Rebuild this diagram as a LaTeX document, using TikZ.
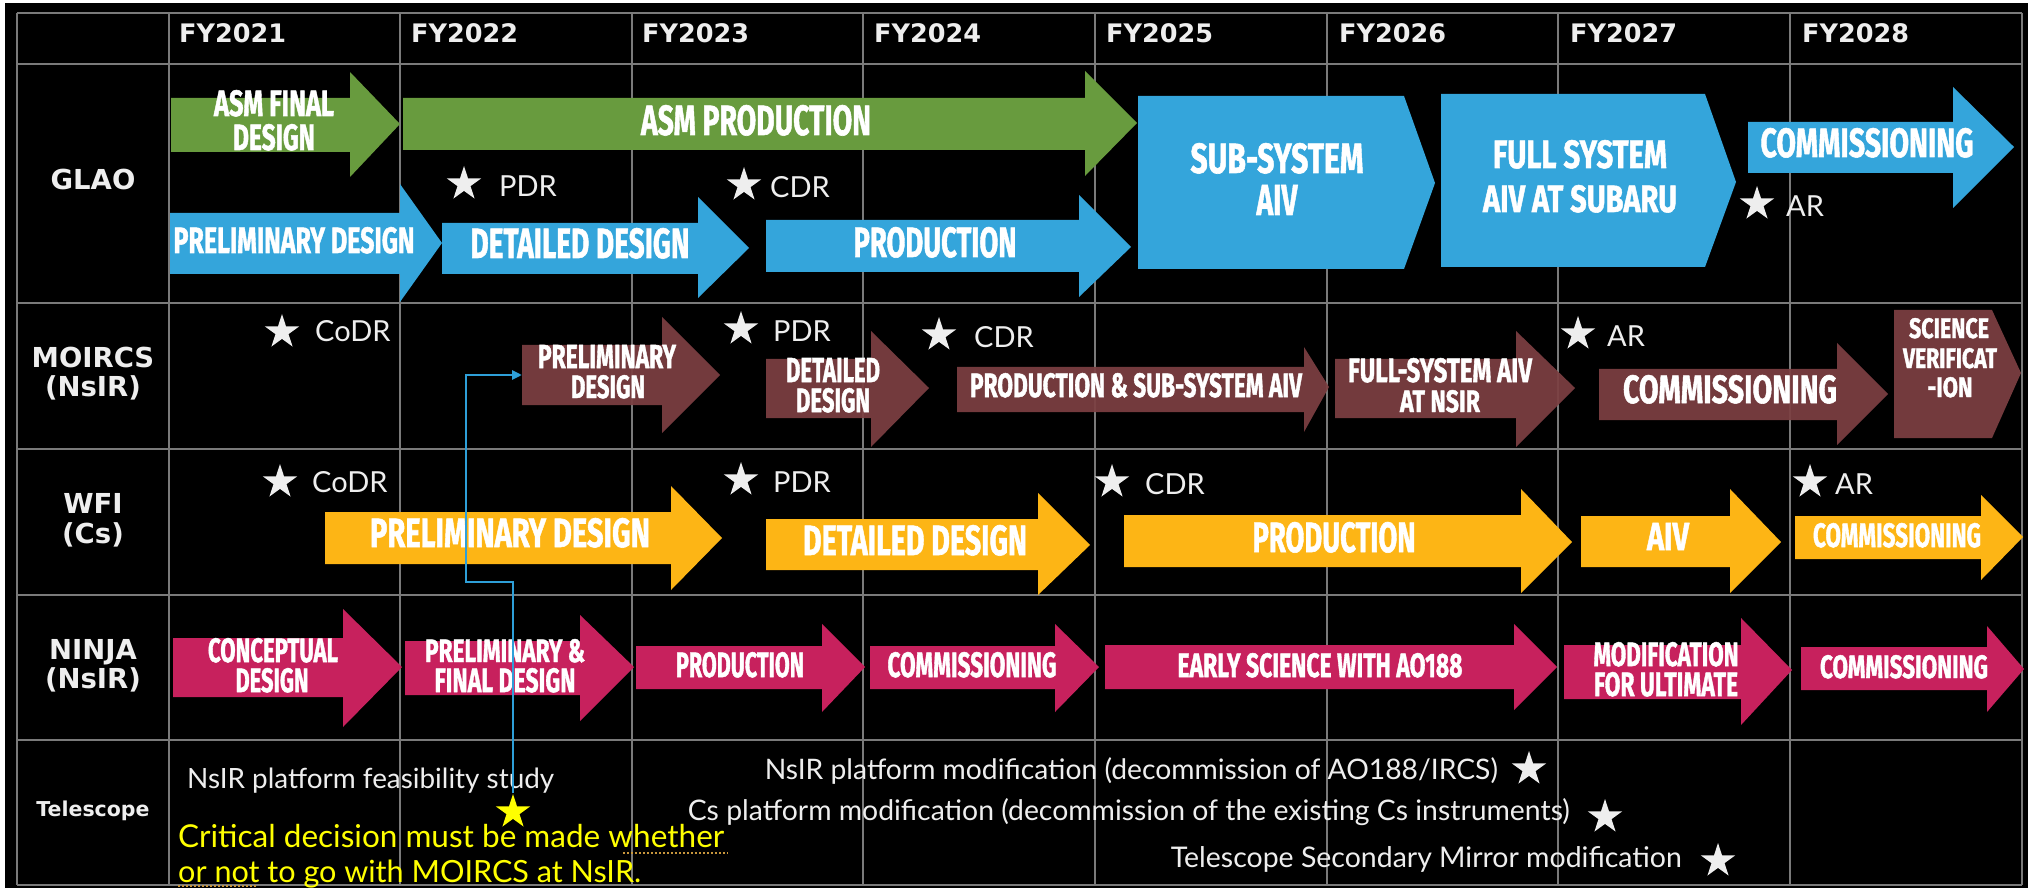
\documentclass[tikz,border=0pt]{standalone}
\usepackage{fontspec}
\usepackage{graphicx}
\usetikzlibrary{shapes.geometric,arrows.meta}
\newfontfamily\condfont[BoldFeatures={FakeBold=1.5}]{Fira Sans}
\newfontfamily\labfont{DejaVu Sans}
\newfontfamily\txtfont{Lato}
\definecolor{cgreen}{HTML}{689B3E}
\definecolor{cblue}{HTML}{34A5DB}
\definecolor{cbrown}{HTML}{7C3F42}
\definecolor{corange}{HTML}{FDB515}
\definecolor{cpink}{HTML}{C7215D}
\definecolor{cgrid}{HTML}{7A7A7A}
\definecolor{cwhite}{HTML}{EEEEEE}
\definecolor{cconn}{HTML}{2E9FD8}
\definecolor{cyel}{HTML}{FFFF00}
\definecolor{cdots}{HTML}{C8963C}
\newcommand{\rb}[3]{\resizebox{#1pt}{#2pt}{\condfont\bfseries #3}}
% colour, x1, top, bottom, xhead, headtop, headbottom, xtip, ytip
\newcommand{\arr}[9]{\fill[#1] (#2,#3) -- (#5,#3) -- (#5,#6) -- (#8,#9) -- (#5,#7) -- (#5,#4) -- (#2,#4) -- cycle;}
% colour, x1, top, bottom, xright, tip
\newcommand{\pent}[6]{\fill[#1] (#2,#3) -- (#5,#3) -- (#6) -- (#5,#4) -- (#2,#4) -- cycle;}
\tikzset{
  grid/.style={draw=cgrid, line width=2pt},
  atext/.style={inner sep=0pt, text=white, anchor=base},
  hdr/.style={inner sep=0pt, text=cwhite, anchor=base west, font=\labfont\bfseries\fontsize{25.5}{28}\selectfont},
  rlab/.style={inner sep=0pt, text=cwhite, anchor=base, font=\labfont\bfseries\fontsize{27.5}{30}\selectfont},
  tlab/.style={inner sep=0pt, text=cwhite, anchor=base, font=\labfont\bfseries\fontsize{20.5}{24}\selectfont},
  slab/.style={inner sep=0pt, text=cwhite, anchor=west, font=\txtfont\fontsize{29}{32}\selectfont},
  ttxt/.style={inner sep=0pt, text=cwhite, font=\txtfont\fontsize{26}{30}\selectfont},
  ytxt/.style={inner sep=0pt, text=cyel, anchor=base west, font=\txtfont\fontsize{29}{32}\selectfont},
  wstar/.style={star, star points=5, star point ratio=2.618, fill=cwhite, inner sep=0pt, minimum size=36pt},
  ystarst/.style={star, star points=5, star point ratio=2.618, fill=cyel, inner sep=0pt, minimum size=36pt},
  conn/.style={draw=cconn, line width=2.6pt, -{Triangle[length=10pt,width=9pt]}},
  squig/.style={draw=cdots, line width=2pt, dotted}
}
\begin{document}
\begin{tikzpicture}[x=1pt,y=-1pt]
\useasboundingbox (0,0) rectangle (2034,890);
\fill[white] (0,0) rectangle (2034,890);
\fill[black] (5,3) rectangle (2028,888);
% grid
\foreach \xx in {17,169,400,632,863,1095,1327,1558,1790,2022}{\draw[grid] (\xx,13) -- (\xx,885);}
\foreach \yy in {13,64,303,449,595,740,885}{\draw[grid] (17,\yy) -- (2022,\yy);}
% header
\node[hdr] (fy21) at (179,43) {FY2021};
\node[hdr] (fy22) at (411,43) {FY2022};
\node[hdr] (fy23) at (642,43) {FY2023};
\node[hdr] (fy24) at (874,43) {FY2024};
\node[hdr] (fy25) at (1106,43) {FY2025};
\node[hdr] (fy26) at (1339,43) {FY2026};
\node[hdr] (fy27) at (1570,43) {FY2027};
\node[hdr] (fy28) at (1802,43) {FY2028};
% row labels
\node[rlab] (lglao) at (93,190) {GLAO};
\node[rlab] (lmoa) at (93,367) {MOIRCS};
\node[rlab] (lmob) at (93,396) {(NsIR)};
\node[rlab] (lwfa) at (93,513) {WFI};
\node[rlab] (lwfb) at (93,543) {(Cs)};
\node[rlab] (lnja) at (93,659) {NINJA};
\node[rlab] (lnjb) at (93,688) {(NsIR)};
\node[tlab] (ltel) at (93,816) {Telescope};
% GLAO arrows
\arr{cgreen}{171}{98}{152}{350}{72}{177}{400}{124}
\arr{cgreen}{403}{98}{150}{1085}{71}{176}{1137}{123}
\arr{cblue}{170}{213}{274}{400}{184}{302}{442}{243}
\arr{cblue}{442}{223}{274}{698}{197}{298}{749}{248}
\arr{cblue}{766}{220}{272}{1079}{195}{297}{1131}{247}
\pent{cblue}{1138}{96}{269}{1404}{1435,183}
\pent{cblue}{1441}{94}{267}{1705}{1736,182}
\arr{cblue}{1748}{122}{173}{1953}{87}{208}{2014}{147}
% MOIRCS arrows
\begin{scope}[opacity=0.93]
\arr{cbrown}{522}{345}{405}{662}{317}{433}{720}{375}
\arr{cbrown}{766}{359}{418}{871}{331}{447}{929}{388}
\arr{cbrown}{957}{367}{412}{1304}{347}{432}{1329}{387}
\arr{cbrown}{1335}{359}{418}{1516}{331}{447}{1575}{388}
\arr{cbrown}{1599}{369}{420}{1837}{343}{445}{1888}{394}
\pent{cbrown}{1894}{310}{438}{1992}{2021,373}
\end{scope}
% WFI arrows
\arr{corange}{325}{512}{564}{671}{486}{590}{722}{538}
\arr{corange}{766}{519}{570}{1038}{493}{595}{1090}{545}
\arr{corange}{1124}{515}{567}{1521}{489}{593}{1572}{542}
\arr{corange}{1581}{516}{567}{1730}{489}{593}{1781}{542}
\arr{corange}{1795}{516}{559}{1981}{495}{580}{2023}{537}
% NINJA arrows
\arr{cpink}{173}{638}{697}{343}{609}{727}{402}{667}
\arr{cpink}{405}{641}{695}{580}{615}{721}{634}{667}
\arr{cpink}{636}{646}{689}{822}{624}{712}{865}{667}
\arr{cpink}{870}{646}{689}{1055}{624}{712}{1099}{667}
\arr{cpink}{1105}{645}{689}{1514}{624}{710}{1557}{667}
\arr{cpink}{1564}{645}{699}{1741}{618}{725}{1792}{670}
\arr{cpink}{1801}{647}{690}{1987}{626}{712}{2024}{669}
% GLAO texts
\node[atext] (g1a) at (274,116) {\rb{120}{26}{ASM FINAL}};
\node[atext] (g1b) at (274,150) {\rb{82}{26}{DESIGN}};
\node[atext] (g2) at (756,135) {\rb{230}{30}{ASM PRODUCTION}};
\node[atext] (b1) at (294,253) {\rb{241}{26}{PRELIMINARY DESIGN}};
\node[atext] (b2) at (580,258) {\rb{219}{30}{DETAILED DESIGN}};
\node[atext] (b3) at (935,257) {\rb{163}{30}{PRODUCTION}};
\node[atext] (p1a) at (1277,173) {\rb{173}{30}{SUB-SYSTEM}};
\node[atext] (p1b) at (1277,215) {\rb{41}{30}{AIV}};
\node[atext] (p2a) at (1580,168) {\rb{174}{28}{FULL SYSTEM}};
\node[atext] (p2b) at (1580,212) {\rb{194}{27}{AIV AT SUBARU}};
\node[atext] (b4) at (1867,157) {\rb{213}{29}{COMMISSIONING}};
% MOIRCS texts
\node[atext] (m1a) at (607,368) {\rb{138}{23}{PRELIMINARY}};
\node[atext] (m1b) at (608,398) {\rb{74}{23}{DESIGN}};
\node[atext] (m2a) at (833,382) {\rb{94}{24}{DETAILED}};
\node[atext] (m2b) at (833,412) {\rb{74}{24}{DESIGN}};
\node[atext] (m3) at (1136,397) {\rb{332}{24}{PRODUCTION \& SUB-SYSTEM AIV}};
\node[atext] (m4a) at (1440,382) {\rb{184}{24}{FULL-SYSTEM AIV}};
\node[atext] (m4b) at (1440,412) {\rb{80}{22}{AT NSIR}};
\node[atext] (m5) at (1730,403) {\rb{214}{28}{COMMISSIONING}};
\node[atext] (m6a) at (1949,338) {\rb{80}{20}{SCIENCE}};
\node[atext] (m6b) at (1950,368) {\rb{94}{20}{VERIFICAT}};
\node[atext] (m6c) at (1950,397) {\rb{45}{20}{-ION}};
% WFI texts
\node[atext] (w1) at (510,547) {\rb{280}{29}{PRELIMINARY DESIGN}};
\node[atext] (w2) at (915,555) {\rb{224}{30}{DETAILED DESIGN}};
\node[atext] (w3) at (1334,552) {\rb{163}{30}{PRODUCTION}};
\node[atext] (w4) at (1668,550) {\rb{42}{27}{AIV}};
\node[atext] (w5) at (1897,547) {\rb{168}{24}{COMMISSIONING}};
% NINJA texts
\node[atext] (n1a) at (273,662) {\rb{130}{24}{CONCEPTUAL}};
\node[atext] (n1b) at (272,692) {\rb{73}{24}{DESIGN}};
\node[atext] (n2a) at (505,662) {\rb{160}{23}{PRELIMINARY \&}};
\node[atext] (n2b) at (505,692) {\rb{141}{24}{FINAL DESIGN}};
\node[atext] (n3) at (740,677) {\rb{128}{25}{PRODUCTION}};
\node[atext] (n4) at (972,677) {\rb{169}{25}{COMMISSIONING}};
\node[atext] (n5) at (1320,677) {\rb{285}{24}{EARLY SCIENCE WITH AO188}};
\node[atext] (n6a) at (1666,666) {\rb{145}{24}{MODIFICATION}};
\node[atext] (n6b) at (1666,696) {\rb{144}{24}{FOR ULTIMATE}};
\node[atext] (n7) at (1904,678) {\rb{168}{23}{COMMISSIONING}};
% milestones
\node[wstar] (sg1) at (464,184) {};
\node[slab] (tg1) at (499,186) {PDR};
\node[wstar] (sg2) at (744,185) {};
\node[slab] (tg2) at (770,187) {CDR};
\node[wstar] (sg3) at (1757,204) {};
\node[slab] (tg3) at (1786,206) {AR};
\node[wstar] (sm1) at (282,332) {};
\node[slab] (tm1) at (315,331) {CoDR};
\node[wstar] (sm2) at (741,329) {};
\node[slab] (tm2) at (773,331) {PDR};
\node[wstar] (sm3) at (939,335) {};
\node[slab] (tm3) at (974,337) {CDR};
\node[wstar] (sm4) at (1578,334) {};
\node[slab] (tm4) at (1607,336) {AR};
\node[wstar] (sw1) at (280,482) {};
\node[slab] (tw1) at (312,482) {CoDR};
\node[wstar] (sw2) at (741,480) {};
\node[slab] (tw2) at (773,482) {PDR};
\node[wstar] (sw3) at (1112,482) {};
\node[slab] (tw3) at (1145,484) {CDR};
\node[wstar] (sw4) at (1810,482) {};
\node[slab] (tw4) at (1835,484) {AR};
% telescope row
\node[ttxt, anchor=base west] (feas) at (187,788) {\resizebox{367pt}{!}{NsIR platform feasibility study}};
\node[ttxt, anchor=base east] (tmod1) at (1498,779) {\resizebox{733pt}{!}{NsIR platform modification (decommission of AO188/IRCS)}};
\node[wstar] (st1) at (1529,769) {};
\node[ttxt, anchor=base east] (tmod2) at (1570,820) {\resizebox{882pt}{!}{Cs platform modification (decommission of the existing Cs instruments)}};
\node[wstar] (st2) at (1605,817) {};
\node[ttxt, anchor=base east] (tmod3) at (1682,867) {\resizebox{511pt}{!}{Telescope Secondary Mirror modification}};
\node[wstar] (st3) at (1718,861) {};
\node[ystarst] (ystar) at (513,812) {};
\node[ytxt] (crit1) at (178,847) {\resizebox{546pt}{!}{Critical decision must be made whether}};
\node[ytxt] (crit2) at (178,882) {\resizebox{463pt}{!}{or not to go with MOIRCS at NsIR.}};
\coordinate (sq1a) at (623,853);
\coordinate (sq1b) at (728,853);
\coordinate (sq2a) at (178,886);
\coordinate (sq2b) at (257,886);
\draw[squig] (sq1a) -- (sq1b);
\draw[squig] (sq2a) -- (sq2b);
% connector
\coordinate (kink) at (466,582);
\coordinate (mpin) at (522,375);
\draw[conn] (ystar.north) |- (kink) |- (mpin);
\end{tikzpicture}
\end{document}
